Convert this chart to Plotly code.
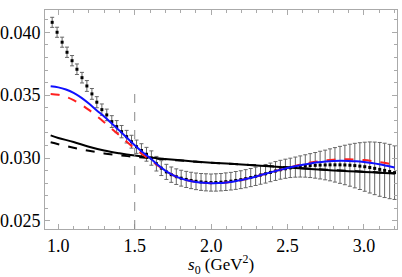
import plotly.graph_objects as go

# ---- data points (s0, value, error) ----
s_pts = [0.960, 0.992, 1.025, 1.057, 1.090, 1.122, 1.155, 1.187, 1.220, 1.252,
         1.285, 1.317, 1.350, 1.382, 1.414, 1.447, 1.479, 1.512, 1.544, 1.577,
         1.609, 1.642, 1.674, 1.707, 1.739, 1.772, 1.804, 1.837, 1.869, 1.901,
         1.934, 1.966, 1.999, 2.031, 2.064, 2.096, 2.129, 2.161, 2.194, 2.226,
         2.259, 2.291, 2.323, 2.356, 2.388, 2.421, 2.453, 2.486, 2.518, 2.551,
         2.583, 2.616, 2.648, 2.681, 2.713, 2.746, 2.778, 2.810, 2.843, 2.875,
         2.908, 2.940, 2.973, 3.005, 3.038, 3.070, 3.103, 3.135, 3.168, 3.200]
v_pts = [0.04079, 0.04000, 0.03921, 0.03841, 0.03774, 0.03706, 0.03639, 0.03573, 0.03510, 0.03444,
         0.03385, 0.03343, 0.03290, 0.03250, 0.03210, 0.03170, 0.03130, 0.03090, 0.03060, 0.03030,
         0.03000, 0.02955, 0.02920, 0.02890, 0.02868, 0.02852, 0.02840, 0.02830, 0.02822, 0.02815,
         0.02810, 0.02807, 0.02805, 0.02806, 0.02808, 0.02812, 0.02816, 0.02822, 0.02828, 0.02836,
         0.02845, 0.02855, 0.02865, 0.02875, 0.02886, 0.02897, 0.02907, 0.02915, 0.02922, 0.02928,
         0.02933, 0.02937, 0.02940, 0.02942, 0.02944, 0.02945, 0.02946, 0.02946, 0.02946, 0.02945,
         0.02943, 0.02940, 0.02936, 0.02931, 0.02925, 0.02918, 0.02910, 0.02902, 0.02893, 0.02884]
e_pts = [0.00040, 0.00040, 0.00040, 0.00041, 0.00041, 0.00042, 0.00042, 0.00043, 0.00043, 0.00044,
         0.00045, 0.00046, 0.00047, 0.00048, 0.00049, 0.00050, 0.00051, 0.00053, 0.00054, 0.00055,
         0.00057, 0.00058, 0.00059, 0.00060, 0.00061, 0.00062, 0.00063, 0.00064, 0.00065, 0.00066,
         0.00067, 0.00068, 0.00068, 0.00069, 0.00069, 0.00070, 0.00070, 0.00071, 0.00071, 0.00072,
         0.00072, 0.00073, 0.00073, 0.00074, 0.00074, 0.00075, 0.00075, 0.00076, 0.00077, 0.00080,
         0.00084, 0.00089, 0.00095, 0.00102, 0.00110, 0.00118, 0.00127, 0.00137, 0.00147, 0.00157,
         0.00167, 0.00177, 0.00186, 0.00195, 0.00203, 0.00209, 0.00214, 0.00216, 0.00216, 0.00213]

# ---- curves ----
s_blue = [0.95, 1.00, 1.05, 1.10, 1.15, 1.20, 1.25, 1.30, 1.35, 1.40, 1.45, 1.50, 1.55, 1.60,
          1.65, 1.70, 1.75, 1.80, 1.85, 1.90, 1.95, 2.00, 2.05, 2.10, 2.15, 2.20, 2.25, 2.30,
          2.35, 2.40, 2.45, 2.50, 2.55, 2.60, 2.65, 2.70, 2.75, 2.80, 2.85, 2.90, 2.95, 3.00,
          3.05, 3.10, 3.15, 3.20]
v_blue = [0.03570, 0.03562, 0.03545, 0.03518, 0.03480, 0.03433, 0.03380, 0.03330, 0.03275, 0.03218,
          0.03160, 0.03102, 0.03048, 0.03000, 0.02946, 0.02900, 0.02864, 0.02838, 0.02821, 0.02810,
          0.02803, 0.02800, 0.02801, 0.02806, 0.02814, 0.02826, 0.02840, 0.02856, 0.02873, 0.02890,
          0.02906, 0.02921, 0.02935, 0.02947, 0.02957, 0.02966, 0.02972, 0.02976, 0.02978, 0.02977,
          0.02974, 0.02968, 0.02960, 0.02950, 0.02938, 0.02925]
v_red = [0.03510, 0.03503, 0.03487, 0.03460, 0.03425, 0.03383, 0.03335, 0.03285, 0.03233, 0.03180,
         0.03128, 0.03076, 0.03030, 0.02987, 0.02942, 0.02900, 0.02864, 0.02838, 0.02821, 0.02810,
         0.02803, 0.02800, 0.02801, 0.02806, 0.02814, 0.02826, 0.02840, 0.02856, 0.02873, 0.02890,
         0.02906, 0.02922, 0.02938, 0.02952, 0.02964, 0.02974, 0.02982, 0.02987, 0.02990, 0.02990,
         0.02988, 0.02984, 0.02977, 0.02968, 0.02958, 0.02946]
s_black = [0.95, 1.00, 1.10, 1.20, 1.30, 1.40, 1.50, 1.60, 1.70, 1.80, 1.90, 2.00, 2.10, 2.20,
           2.30, 2.40, 2.50, 2.60, 2.70, 2.80, 2.90, 3.00, 3.10, 3.20]
v_black = [0.03180, 0.03160, 0.03128, 0.03090, 0.03060, 0.03038, 0.03020, 0.03005, 0.02993, 0.02982,
           0.02972, 0.02963, 0.02956, 0.02949, 0.02941, 0.02933, 0.02925, 0.02917, 0.02909, 0.02902,
           0.02896, 0.02890, 0.02884, 0.02878]
v_black_d = [0.03125, 0.03110, 0.03082, 0.03058, 0.03037, 0.03022, 0.03010, 0.03000, 0.02990, 0.02980,
             0.02971, 0.02963, 0.02956, 0.02949, 0.02942, 0.02934, 0.02926, 0.02918, 0.02911, 0.02904,
             0.02898, 0.02892, 0.02886, 0.02880]

s_cut = 1.5
x_range = [0.913, 3.216]
y_range = [0.02436, 0.04177]
x_ticks = [1.0, 1.5, 2.0, 2.5, 3.0]
y_ticks = [0.025, 0.030, 0.035, 0.040]

SERIF = "Liberation Serif, serif"

fig = go.Figure()

fig.add_trace(go.Scatter(
    x=s_pts, y=v_pts, mode="markers",
    marker=dict(color="black", size=3, symbol="square"),
    error_y=dict(type="data", array=e_pts, visible=True, color="#666666", thickness=1, width=2),
    showlegend=False))

fig.add_trace(go.Scatter(x=s_black, y=v_black_d, mode="lines", line=dict(color="black", width=2, dash="dash", shape="spline"), showlegend=False))
fig.add_trace(go.Scatter(x=s_black, y=v_black, mode="lines", line=dict(color="black", width=2, shape="spline"), showlegend=False))
fig.add_trace(go.Scatter(x=s_blue, y=v_red, mode="lines", line=dict(color="#ff2020", width=2, dash="dash", shape="spline"), showlegend=False))
fig.add_trace(go.Scatter(x=s_blue, y=v_blue, mode="lines", line=dict(color="#1010ff", width=2, shape="spline"), showlegend=False))

fig.add_shape(type="line", xref="x", yref="y", x0=s_cut, x1=s_cut, y0=y_range[0], y1=0.0357,
              line=dict(color="#888888", width=1, dash="dash"))

axis_common = dict(
    showline=True, linecolor="#aaaaaa", linewidth=1, mirror="allticks",
    ticks="inside", ticklen=5, tickcolor="#aaaaaa", tickwidth=1,
    showgrid=False, zeroline=False, automargin=False,
    tickfont=dict(family=SERIF, size=18, color="black"),
)

fig.update_xaxes(range=x_range, tickvals=x_ticks, ticktext=[f"{t:.1f}" for t in x_ticks],
                 minor=dict(dtick=0.1, tick0=0, ticklen=3, tickcolor="#aaaaaa", ticks="inside", showgrid=False),
                 **axis_common)
fig.update_yaxes(range=y_range, tickvals=y_ticks, ticktext=[f"{t:.3f}" for t in y_ticks],
                 minor=dict(dtick=0.001, tick0=0, ticklen=3, tickcolor="#aaaaaa", ticks="inside", showgrid=False),
                 **axis_common)

fig.add_annotation(text="<i>s</i><sub>0</sub> (GeV<sup>2</sup>)", xref="paper", yref="paper",
                   x=0.5, y=-0.16, xanchor="center", yanchor="middle", showarrow=False,
                   font=dict(family=SERIF, size=17, color="black"))

fig.update_layout(width=402, height=277, margin=dict(l=45, r=5, t=10, b=48, autoexpand=False),
                  plot_bgcolor="white", paper_bgcolor="white")

fig.write_html("out.html", config={"displayModeBar": False},
               post_script="document.body.style.margin='0px';document.body.style.overflow='hidden';")
